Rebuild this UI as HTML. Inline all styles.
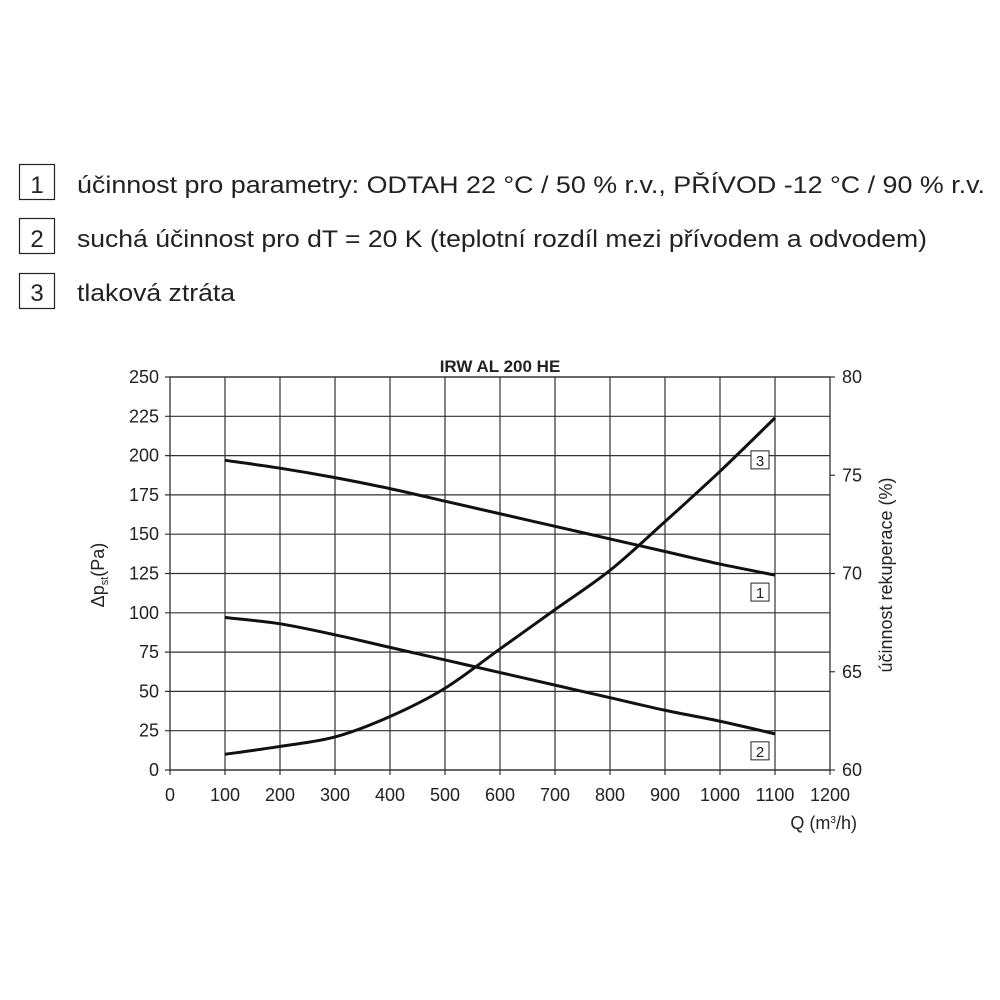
<!DOCTYPE html>
<html><head><meta charset="utf-8"><style>
html,body{margin:0;padding:0;background:#fff;}
svg{display:block;font-family:"Liberation Sans",sans-serif;}
</style></head><body>
<svg id="c" width="1000" height="1000" viewBox="0 0 1000 1000">
<g fill="#222">
 <g>
  <rect x="19.5" y="164.5" width="35" height="35" fill="none" stroke="#222" stroke-width="1.2"/>
  <text x="37" y="193" font-size="24" text-anchor="middle">1</text>
  <text x="77" y="193" font-size="24" textLength="908" lengthAdjust="spacingAndGlyphs">účinnost pro parametry: ODTAH 22 °C / 50 % r.v., PŘÍVOD -12 °C / 90 % r.v.</text>
 </g>
 <g>
  <rect x="19.5" y="218.5" width="35" height="35" fill="none" stroke="#222" stroke-width="1.2"/>
  <text x="37" y="247" font-size="24" text-anchor="middle">2</text>
  <text x="77" y="247" font-size="24" textLength="850" lengthAdjust="spacingAndGlyphs">suchá účinnost pro dT = 20 K (teplotní rozdíl mezi přívodem a odvodem)</text>
 </g>
 <g>
  <rect x="19.5" y="273.5" width="35" height="35" fill="none" stroke="#222" stroke-width="1.2"/>
  <text x="37" y="301" font-size="24" text-anchor="middle">3</text>
  <text x="77" y="301" font-size="24" textLength="158" lengthAdjust="spacingAndGlyphs">tlaková ztráta</text>
 </g>
</g>
<text x="500" y="372" font-size="17" font-weight="bold" text-anchor="middle" fill="#222">IRW AL 200 HE</text>
<g id="grid"></g>
<g id="axes"></g>
<g id="series"></g>
<text transform="translate(104,575) rotate(-90)" font-size="18" text-anchor="middle" fill="#222">Δp<tspan font-size="11" dy="4">st</tspan><tspan dy="-4">(Pa)</tspan></text>
<text transform="translate(892,575) rotate(-90)" font-size="18" text-anchor="middle" fill="#222">účinnost rekuperace (%)</text>
<text x="857" y="829" font-size="18" text-anchor="end" fill="#222">Q (m<tspan font-size="10" dy="-6">3</tspan><tspan dy="6">/h)</tspan></text>
</svg>
<script>
const xTicks=[0,100,200,300,400,500,600,700,800,900,1000,1100,1200];
const yTicks=[0,25,50,75,100,125,150,175,200,225,250];
const y2Ticks=[60,65,70,75,80];
const flows=[100,200,300,400,500,600,700,800,900,1000,1100];
const curve1=[197,192,186,179,171,163,155,147,139,131,124];
const curve2=[97,93,86,78,70,62,54,46,38,31,23];
const curve3=[10,15,21,34,52,77,102,127,158,190,224];
const NS="http://www.w3.org/2000/svg";
const X=v=>170+v*(660/1200);
const Y=v=>770-v*(393/250);
const Y2=v=>770-(v-60)*(393/20);
function mk(t,a,p){const e=document.createElementNS(NS,t);for(const k in a)e.setAttribute(k,a[k]);p.appendChild(e);return e;}
const grid=document.getElementById('grid'),axes=document.getElementById('axes'),ser=document.getElementById('series');
xTicks.forEach(v=>{
 if(v>0&&v<1200){const l=mk('line',{x1:X(v),x2:X(v),y1:Y(250),y2:Y(0),stroke:'#333','stroke-width':1.2},grid);
 
 }
 const tk=mk('line',{x1:X(v),x2:X(v),y1:Y(0),y2:Y(0)+5,stroke:'#333','stroke-width':1.2},axes);
 
 
 const t=mk('text',{x:X(v),y:Y(0)+31,'font-size':18,'text-anchor':'middle',fill:'#222'},axes);t.textContent=v;
 
 
});
yTicks.forEach(v=>{
 const l=mk('line',{x1:X(0)-5,x2:X(1200),y1:Y(v),y2:Y(v),stroke:'#333','stroke-width':1.2},grid);
 
 
 const t=mk('text',{x:X(0)-11,y:Y(v)+6,'font-size':18,'text-anchor':'end',fill:'#222'},axes);t.textContent=v;
 
 
});
y2Ticks.forEach(v=>{
 const tk=mk('line',{x1:X(1200),x2:X(1200)+5,y1:Y2(v),y2:Y2(v),stroke:'#333','stroke-width':1.2},axes);
 
 
 const t=mk('text',{x:X(1200)+12,y:Y2(v)+6,'font-size':18,fill:'#222'},axes);t.textContent=v;
 
 
});
const fr=mk('rect',{x:X(0),y:Y(250),width:X(1200)-X(0),height:Y(0)-Y(250),fill:'none',stroke:'#333','stroke-width':1.3},axes);


function path(vals){let d='';const p=flows.map((f,i)=>[X(f),Y(vals[i])]);
 d='M'+p[0][0]+','+p[0][1];
 for(let i=0;i<p.length-1;i++){const p0=p[i-1]||p[i],p1=p[i],p2=p[i+1],p3=p[i+2]||p2;
  d+=` C${p1[0]+(p2[0]-p0[0])/6},${p1[1]+(p2[1]-p0[1])/6} ${p2[0]-(p3[0]-p1[0])/6},${p2[1]-(p3[1]-p1[1])/6} ${p2[0]},${p2[1]}`;}
 return d;}
[[curve1,'curve-1-efficiency'],[curve2,'curve-2-dry-efficiency'],[curve3,'curve-3-pressure-loss']].forEach(([c,n])=>{
 const p=mk('path',{d:path(c),fill:'none',stroke:'#111','stroke-width':3},ser);
 
 
});
const labs=[['1',curve1],['2',curve2],['3',curve3]];
labs.forEach(([t,c])=>{
 const last=c[c.length-1];const yy=t==='3'?Y(last)+42:Y(last)+17;
 const g=mk('g',{},ser);
 
 
 mk('rect',{x:X(1100)-24,y:yy-9,width:18,height:18,fill:'#fff',stroke:'#222','stroke-width':1},g);
 const tx=mk('text',{x:X(1100)-15,y:yy+6,'font-size':15,'text-anchor':'middle',fill:'#222'},g);tx.textContent=t;
});
</script>
</body></html>
